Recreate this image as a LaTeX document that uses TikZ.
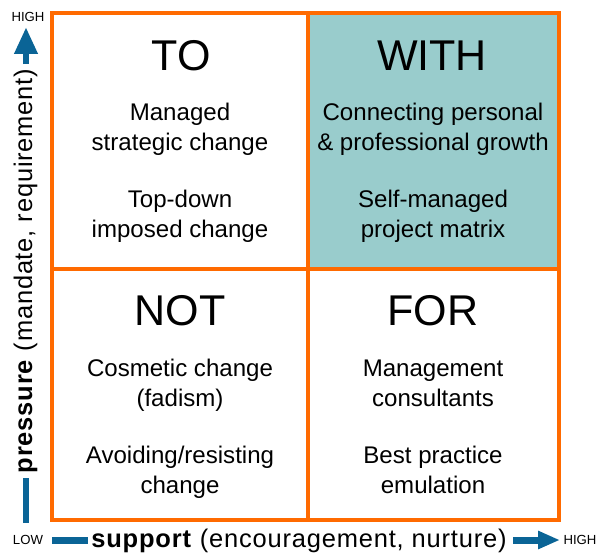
\documentclass[tikz,border=0pt]{standalone}
\usepackage{fontspec}
\setmainfont{Liberation Sans}
\newfontfamily\axisfont[LetterSpace=3.2]{Liberation Sans}
\usepackage{tikz}
\usetikzlibrary{arrows.meta}
\definecolor{gridorange}{HTML}{FF6A00}
\definecolor{withteal}{HTML}{99CCCC}
\definecolor{axisblue}{HTML}{0A6496}
\newcommand{\lbl}[1]{\textbf{#1}}

\begin{document}
\begin{tikzpicture}[x=0.02cm,y=-0.02cm,
  cell/.style 2 args={draw=gridorange,line width=0.08cm,inner sep=0pt,
    minimum width=#1*0.02cm,minimum height=#2*0.02cm},
  title/.style={anchor=base,font=\fontsize{24.5}{29}\selectfont},
  body/.style={anchor=base,align=center,font=\fontsize{13.7}{17}\selectfont},
  axis/.style={draw=axisblue,line width=0.14cm},
  axislabel/.style={inner sep=0pt,font=\axisfont\fontsize{14.5}{17}\selectfont},
  endlabel/.style={inner sep=0pt,font=\fontsize{7.5}{8}\selectfont}]
\useasboundingbox (0,0) rectangle (599,552);
% the four quadrants
\node[cell={256}{256}] (to) at (180,141) {};
\node[cell={251}{256},fill=withteal] (with) at (433.5,141) {};
\node[cell={256}{251}] (not) at (180,394.5) {};
\node[cell={251}{251}] (for) at (433.5,394.5) {};
\node[title] (to-t) at (181,70) {TO};
\node[title] (with-t) at (432,70) {WITH};
\node[title] (not-t) at (180,325) {NOT};
\node[title] (for-t) at (433,325) {FOR};
% body anchors sit on the second line
\node[body] (to-a) at (180,150) {Managed\\strategic change};
\node[body] (to-b) at (180,237) {Top-down\\imposed change};
\node[body] (with-a) at (433,150) {Connecting personal\\\& professional growth};
\node[body] (with-b) at (433,237) {Self-managed\\project matrix};
\node[body] (not-a) at (180,406) {Cosmetic change\\(fadism)};
\node[body] (not-b) at (180,493) {Avoiding/resisting\\change};
\node[body] (for-a) at (433,406) {Management\\consultants};
\node[body] (for-b) at (433,493) {Best practice\\emulation};
% axes
\coordinate (y0) at (26,523);
\coordinate (y1) at (26,478);
\coordinate (y2) at (26,64);
\coordinate (y3) at (26,27);
\coordinate (x0) at (52,540);
\coordinate (x1) at (88,540);
\coordinate (x2) at (513,540);
\coordinate (x3) at (560,540);
\draw[axis] (y0) -- (y1);
\draw[axis,-{Triangle[length=0.54cm,width=0.44cm]}] (y2) -- (y3);
\draw[axis] (x0) -- (x1);
\draw[axis,-{Triangle[length=0.44cm,width=0.34cm]}] (x2) -- (x3);
\node[axislabel,rotate=90,anchor=base] (ylabel) at (32,271)
  {\lbl{pressure} (mandate, requirement)};
\node[axislabel,anchor=base west] (xlabel) at (91,547)
  {\lbl{support} (encouragement, nurture)};
\node[endlabel] (yhigh) at (28,17) {HIGH};
\node[endlabel] (xlow) at (28,540) {LOW};
\node[endlabel] (xhigh) at (580,540) {HIGH};
\end{tikzpicture}
\end{document}
